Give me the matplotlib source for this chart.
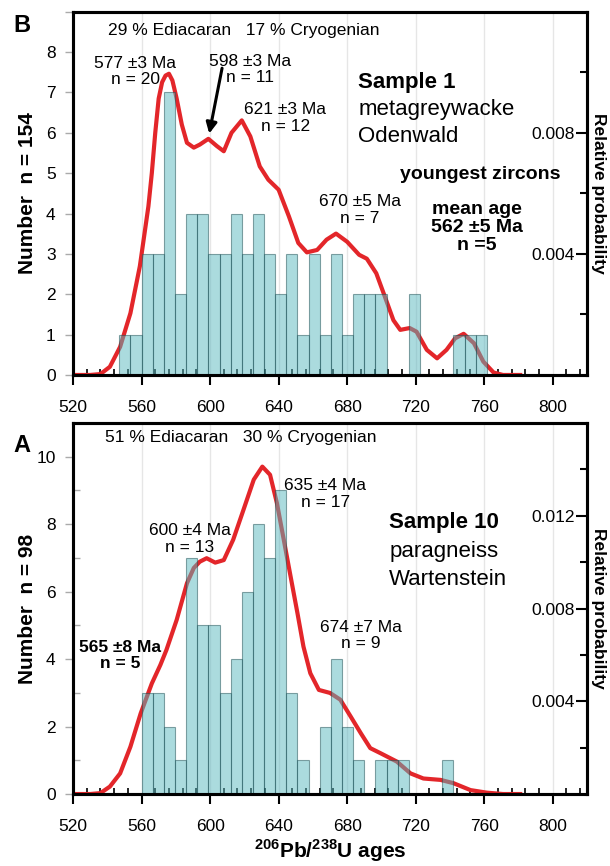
"""Detrital zircon U-Pb age histograms with probability curves for two samples

"""

import numpy as np
import matplotlib
matplotlib.use('Agg')
import matplotlib.pyplot as plt
from matplotlib.ticker import MultipleLocator, FixedLocator

plt.rcParams['font.family'] = ['Liberation Sans', 'DejaVu Sans']
plt.rcParams['mathtext.fontset'] = 'custom'
plt.rcParams['mathtext.rm'] = 'Liberation Sans'
plt.rcParams['mathtext.bf'] = 'Liberation Sans:bold'

# histogram bins (left edges in Ma, 6.5 Ma wide), same grid for both samples
bin_left = np.arange(547, 761, 6.5)
bin_width = 6.5

# Sample 1 (panel B) counts per bin
counts_b = [1, 1, 3, 3, 7, 2, 4, 4, 3, 3, 4, 3, 4, 3, 2, 3, 1,
            3, 1, 3, 1, 2, 2, 2, 0, 0, 2, 0, 0, 0, 1, 1, 1]
# Sample 10 (panel A) counts per bin
counts_a = [0, 0, 3, 3, 2, 1, 7, 5, 5, 3, 4, 6, 8, 7, 9, 3, 1,
            0, 2, 4, 2, 1, 0, 1, 1, 1, 0, 0, 0, 1, 0, 0, 0]

# relative probability curves (age in Ma, probability)
ages_b = [520, 530, 536, 541.5, 547.5, 553.5, 559, 564, 566, 568, 570, 572, 574, 576,
          578, 580.5, 583.5, 586.5, 590.5, 594, 599, 604, 608, 612.5, 618.5, 623.5,
          629, 634, 640, 646, 651.5, 656.5, 662.5, 668, 673.5, 680, 687, 691.5, 697,
          702, 707, 711, 716.5, 720.5, 726.5, 732.5, 738, 743, 748, 754, 759.5, 765.5,
          771, 781]
prob_b = [0, 0, 0.00003, 0.00027, 0.00093, 0.00204, 0.00359, 0.00557, 0.00667, 0.0080,
          0.00913, 0.00967, 0.00989, 0.00995, 0.00973, 0.00913, 0.00827, 0.00767,
          0.00751, 0.00761, 0.0078, 0.00756, 0.00739, 0.0080, 0.00841, 0.00788, 0.00689,
          0.00645, 0.00612, 0.00524, 0.00436, 0.00405, 0.00413, 0.00447, 0.00467, 0.0044,
          0.00397, 0.00384, 0.00336, 0.00259, 0.00181, 0.00149, 0.00155, 0.00143,
          0.00083, 0.00055, 0.00083, 0.00121, 0.00136, 0.00105, 0.00044, 0.00008, 0, 0]

ages_a = [520, 530, 536, 541.5, 547.5, 553.5, 559.5, 566, 571, 574.5, 580.5, 586.5,
          590.5, 594, 598, 603, 608, 613.5, 619.5, 625.5, 630.5, 635, 639, 643, 647,
          651, 654.5, 658.5, 663.5, 670, 676, 682, 688, 693.5, 699.5, 709, 717, 724.5,
          734.5, 742, 752, 761.5, 771, 781]
prob_a = [0, 0, 0.00004, 0.00032, 0.00089, 0.00204, 0.00348, 0.00477, 0.00557, 0.00621,
          0.00751, 0.00909, 0.00975, 0.01002, 0.01017, 0.00998, 0.01009, 0.01097,
          0.01226, 0.01356, 0.01412, 0.01377, 0.01255, 0.01097, 0.00938, 0.0078,
          0.00636, 0.00521, 0.00449, 0.00436, 0.00407, 0.00335, 0.00262, 0.00198,
          0.00176, 0.0014, 0.00089, 0.00067, 0.00061, 0.00047, 0.00017, 0.00006, 0, 0]

age_ticks = [520, 560, 600, 640, 680, 720, 760, 800]

RED = '#e3262a'
FS = 12.5


def plot_panel(ax, counts, ages, prob, count_top, prob_top, prob_ticks, ylabel):
    """Draws the histogram, the probability curve and both y axes for one sample."""

    # Probability curve is put on the count scale so the bars can sit on top of it
    scale = count_top / prob_top
    ax.plot(ages, np.array(prob) * scale, color=RED, lw=3, zorder=2)

    # Only bins with zircons get a bar
    counts = np.array(counts)
    keep = counts > 0
    ax.bar(bin_left[keep], counts[keep], width=bin_width, align='edge',
           color=(0.35, 0.72, 0.75), edgecolor=(0.1, 0.3, 0.32), linewidth=0.8,
           alpha=0.5, zorder=3)

    ax.set_xlim(520, 820)
    ax.set_ylim(0, count_top)
    ax.set_xticks(age_ticks)
    ax.xaxis.set_minor_locator(MultipleLocator(8))
    ax.grid(axis='x', which='major', color='#e6e6e6', lw=1, zorder=0)
    ax.set_axisbelow(True)

    ax.tick_params(axis='x', which='major', direction='out', length=7, width=1.5,
                   labelsize=FS, pad=11)
    ax.tick_params(axis='x', which='minor', direction='in', length=4, width=1.2)
    ax.tick_params(axis='y', which='major', direction='out', length=6, width=1,
                   color='#aaaaaa', labelsize=FS, pad=6.5)
    ax.tick_params(axis='y', which='minor', direction='in', length=5, width=1,
                   color='#aaaaaa')
    for s in ax.spines.values():
        s.set_linewidth(2.2)

    ax.set_ylabel(ylabel, fontsize=15, fontweight='bold')
    ax.yaxis.set_label_coords(-0.070, 0.5)

    # Right axis: relative probability, labels sit inside the frame
    ax2 = ax.twinx()
    ax2.set_ylim(0, prob_top)
    ax2.set_yticks(prob_ticks)
    ax2.set_yticklabels(['%.3f' % p for p in prob_ticks])
    minor = [p + 0.002 for p in [0] + prob_ticks if p + 0.002 < prob_top]
    ax2.yaxis.set_minor_locator(FixedLocator(minor))
    ax2.tick_params(axis='y', which='major', direction='in', length=8, width=1.5,
                    labelsize=FS, pad=-9)
    ax2.tick_params(axis='y', which='minor', direction='in', length=5, width=1.5)
    for lab in ax2.get_yticklabels():
        lab.set_horizontalalignment('right')
    for s in ax2.spines.values():
        s.set_linewidth(2.2)
    ax2.set_ylabel('Relative probability', fontsize=FS, fontweight='bold',
                   rotation=270, va='bottom')
    ax2.yaxis.set_label_coords(1.008, 0.5)
    return ax2


fig = plt.figure(figsize=(6.1, 8.66), dpi=100)
ax_b = fig.add_axes([0.1197, 0.5670, 0.8426, 0.4195])
ax_a = fig.add_axes([0.1197, 0.0831, 0.8426, 0.4284])

# Panel B - Sample 1
plot_panel(ax_b, counts_b, ages_b, prob_b, 9, 0.012, [0.004, 0.008], 'Number  n = 154')
ax_b.set_yticks(range(0, 10))
ax_b.set_yticklabels([str(i) for i in range(0, 9)] + [''])

ax_b.text(540.4, 8.54, '29 % Ediacaran   17 % Cryogenian', fontsize=FS, ha='left', va='center')
ax_b.text(556.2, 7.52, '577 ±3 Ma\nn = 20', fontsize=FS, ha='center', va='center', linespacing=1.15)
ax_b.text(623.2, 7.57, '598 ±3 Ma\nn = 11', fontsize=FS, ha='center', va='center', linespacing=1.15)
ax_b.text(643.8, 6.36, '621 ±3 Ma\nn = 12', fontsize=FS, ha='center', va='center', linespacing=1.15)
ax_b.text(687.6, 4.09, '670 ±5 Ma\nn = 7', fontsize=FS, ha='center', va='center', linespacing=1.15)
ax_b.annotate('', xy=(599.5, 5.98), xytext=(607, 7.6),
              arrowprops=dict(arrowstyle='-|>', color='black', lw=2.2,
                              mutation_scale=16, shrinkA=0, shrinkB=0))

ax_b.text(686.4, 7.25, 'Sample 1', fontsize=16, fontweight='bold', va='center')
ax_b.text(686.4, 6.58, 'metagreywacke', fontsize=16, va='center')
ax_b.text(686.4, 5.91, 'Odenwald', fontsize=16, va='center')
ax_b.text(757.7, 4.96, 'youngest zircons', fontsize=14, fontweight='bold', ha='center', va='center')
ax_b.text(755.9, 3.65, 'mean age\n562 ±5 Ma\nn =5', fontsize=14, fontweight='bold',
          ha='center', va='center', linespacing=1.1)

# Panel A - Sample 10
plot_panel(ax_a, counts_a, ages_a, prob_a, 11, 0.016, [0.004, 0.008, 0.012], 'Number  n = 98')
ax_a.set_yticks(range(0, 11, 2))
ax_a.yaxis.set_minor_locator(MultipleLocator(1))

ax_a.text(538.7, 10.56, '51 % Ediacaran   30 % Cryogenian', fontsize=FS, ha='left', va='center')
ax_a.text(588.3, 7.57, '600 ±4 Ma\nn = 13', fontsize=FS, ha='center', va='center', linespacing=1.15)
ax_a.text(667.2, 8.9, '635 ±4 Ma\nn = 17', fontsize=FS, ha='center', va='center', linespacing=1.15)
ax_a.text(688.2, 4.70, '674 ±7 Ma\nn = 9', fontsize=FS, ha='center', va='center', linespacing=1.15)
ax_a.text(547.4, 4.11, '565 ±8 Ma\nn = 5', fontsize=FS, fontweight='bold', ha='center',
          va='center', linespacing=1.15)

ax_a.text(704.5, 8.04, 'Sample 10', fontsize=16, fontweight='bold', va='center')
ax_a.text(704.5, 7.18, 'paragneiss', fontsize=16, va='center')
ax_a.text(704.5, 6.35, 'Wartenstein', fontsize=16, va='center')

ax_a.set_xlabel(r'$^{\mathbf{206}}$Pb/$^{\mathbf{238}}$U ages', fontsize=15, fontweight='bold')
ax_a.xaxis.set_label_coords(0.5, -0.1536)
ax_a.xaxis.label.set_va('center')

# Panel letters
fig.text(22 / 610, 1 - 25 / 866, 'B', fontsize=17, fontweight='bold', ha='center', va='center')
fig.text(22 / 610, 1 - 445 / 866, 'A', fontsize=17, fontweight='bold', ha='center', va='center')

fig.savefig('out.png', dpi=100)
